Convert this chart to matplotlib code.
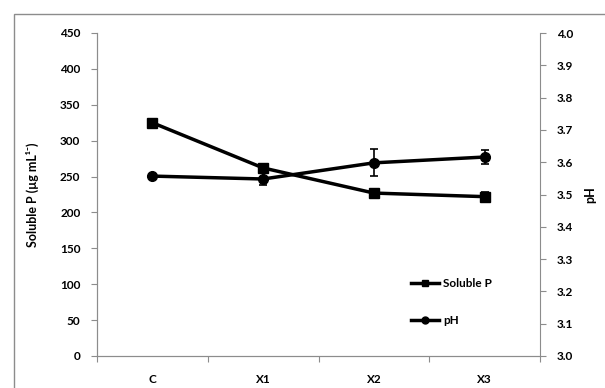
import matplotlib
matplotlib.use("Agg")
import matplotlib.pyplot as plt
from matplotlib.patches import Rectangle
from matplotlib.lines import Line2D

categories = ["C", "X1", "X2", "X3"]
soluble_p = [325, 262, 227, 222]
soluble_p_err = [2, 4, 3, 6]
ph = [3.557, 3.548, 3.598, 3.616]
ph_err = [0.004, 0.02, 0.042, 0.022]

plt.rcParams['font.family'] = ['Lato', 'DejaVu Sans']
fig = plt.figure(figsize=(6.05, 3.88), dpi=100)
# outer chart frame
fig.patches.append(Rectangle((14/605, -0.5), 2.0, 1.5 - 14/388,
                             transform=fig.transFigure, fill=False,
                             edgecolor='#8c8c8c', linewidth=1.0))

ax = fig.add_axes([97/605, 1-356/388, 443/605, 323/388])
ax2 = ax.twinx()

x = list(range(len(categories)))
ax.errorbar(x, soluble_p, yerr=soluble_p_err, color='black', marker='s',
            markersize=7, linewidth=2.5, capsize=3, elinewidth=1.2, capthick=1.2,
            zorder=3)
ax2.errorbar(x, ph, yerr=ph_err, color='black', marker='o',
             markersize=7, linewidth=2.5, capsize=3, elinewidth=1.2, capthick=1.2)

ax.set_xlim(-0.5, 3.5)
ax.set_ylim(0, 450)
ax.set_yticks(range(0, 451, 50))
ax2.set_ylim(3.0, 4.0)
ax2.set_yticks([3.0 + 0.1*i for i in range(11)])
ax2.set_yticklabels([f"{3.0 + 0.1*i:.1f}" for i in range(11)])

ax.set_xticks([-0.5, 0.5, 1.5, 2.5, 3.5])
ax.set_xticklabels([])
ax.set_xticks(x, minor=True)
ax.set_xticklabels(categories, minor=True)
ax.tick_params(axis='x', which='minor', length=0, pad=13)
ax.tick_params(axis='x', which='major', length=4, color='#8c8c8c', direction='out')

for a in (ax, ax2):
    a.spines['top'].set_visible(False)
    for s in ('left', 'right', 'bottom'):
        a.spines[s].set_color('#8c8c8c')
    a.tick_params(axis='y', length=4, color='#8c8c8c', direction='out', pad=8)
    for lab in a.get_yticklabels() + a.get_xticklabels(minor=True):
        lab.set_fontsize(8.5)
        lab.set_fontweight('bold')
ax.spines['right'].set_visible(False)

ax.set_ylabel("Soluble P (µg mL¹⁻)", fontsize=9, fontweight='bold', labelpad=15)
ax2.set_ylabel("pH", fontsize=9, fontweight='bold', rotation=90, labelpad=8)

handles = [Line2D([], [], color='black', marker='s', markersize=5, linewidth=2.5),
           Line2D([], [], color='black', marker='o', markersize=5, linewidth=2.5)]
ax2.legend(handles, ["Soluble P", "pH"], loc='upper left',
           bbox_to_anchor=(0.685, 0.275), bbox_transform=ax2.transAxes,
           frameon=False, prop={'size': 8.5, 'weight': 'bold'}, handlelength=2.4,
           labelspacing=2.2, handletextpad=0.3)
fig.savefig("out.png", dpi=100)
